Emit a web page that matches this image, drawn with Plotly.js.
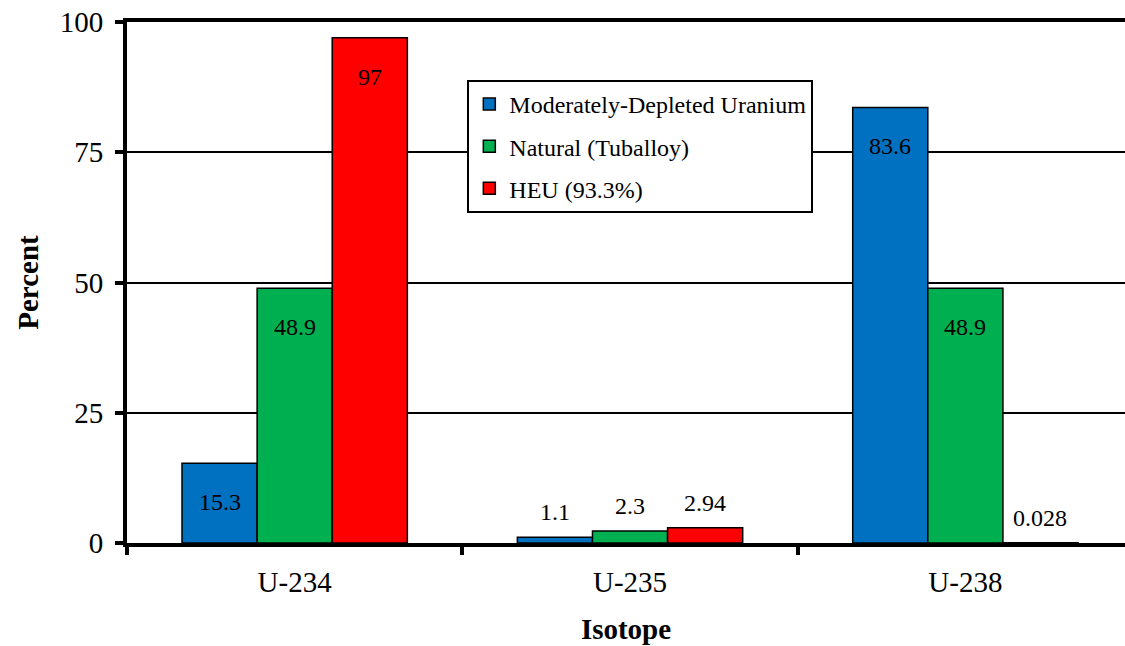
<!DOCTYPE html>
<html>
<head>
<meta charset="utf-8">
<script src="https://cdn.plot.ly/plotly-3.0.1.min.js"></script>
<style>
body{margin:0;font-family:'Liberation Serif','Times New Roman',serif;}
</style>
</head>
<body>
<div id="plot"></div>
<script>
const categories = ["U-234", "U-235", "U-238"];
const seriesNames = ["Moderately-Depleted Uranium", "Natural (Tuballoy)", "HEU (93.3%)"];
const depleted = [15.3, 1.1, 83.6];
const natural = [48.9, 2.3, 48.9];
const heu = [97, 2.94, 0.028];
const yTicks = [0, 25, 50, 75, 100];

const colors = ["#0070C0", "#00B050", "#FF0000"];
const allSeries = [depleted, natural, heu];
const F = "'Times New Roman', 'Liberation Serif', serif";

const traces = allSeries.map(function (vals, i) {
  return {
    type: "bar",
    name: seriesNames[i],
    x: categories,
    y: vals,
    marker: {color: colors[i], line: {color: "#000", width: 1.5}},
    legendgroup: "g" + i,
    hoverinfo: "skip"
  };
});

const annotations = [];
allSeries.forEach(function (vals, i) {
  vals.forEach(function (v, j) {
    const inside = v > 10;
    annotations.push({
      x: categories[j], y: v, xref: "x", yref: "y",
      text: String(v), showarrow: false,
      xshift: (i - 1) * 75,
      yshift: inside ? -39 : 25,
      yanchor: "middle",
      font: {family: F, size: 24, color: "#000"}
    });
  });
});

const layout = {
  width: 1125, height: 646,
  margin: {l: 127, r: 0, t: 22, b: 103, pad: 0},
  paper_bgcolor: "#fff", plot_bgcolor: "#fff",
  barmode: "group", bargap: 0.328, bargroupgap: 0,
  font: {family: F, color: "#000"},
  showlegend: true,
  legend: {
    x: 0.341, y: 0.889, xanchor: "left", yanchor: "top",
    bgcolor: "#fff", bordercolor: "#000", borderwidth: 2,
    font: {family: F, size: 24, color: "#000"},
    tracegroupgap: 8, traceorder: "grouped"
  },
  xaxis: {
    type: "category",
    range: [-0.5, 2.476],
    showline: true, linecolor: "#000", linewidth: 4, mirror: true,
    ticks: "outside", tickson: "boundaries", ticklen: 8, tickwidth: 4, tickcolor: "#000",
    tickfont: {family: F, size: 29, color: "#000"},
    ticklabelstandoff: 10,
    showgrid: false, zeroline: false,
    title: {text: "<b>Isotope</b>", font: {family: F, size: 29, color: "#000"}, standoff: 23},
    fixedrange: true
  },
  yaxis: {
    range: [0, 100],
    tickvals: yTicks, ticktext: yTicks.map(String),
    showline: true, linecolor: "#000", linewidth: 4,
    ticks: "outside", ticklen: 8, tickwidth: 4, tickcolor: "#000",
    tickfont: {family: F, size: 29, color: "#000"},
    ticklabelstandoff: 6,
    showgrid: true, gridcolor: "#000", gridwidth: 1.5,
    zeroline: false,
    title: {text: "<b>Percent</b>", font: {family: F, size: 29, color: "#000"}, standoff: 14},
    fixedrange: true
  },
  annotations: annotations
};

Plotly.newPlot("plot", traces, layout, {displayModeBar: false});
</script>
</body>
</html>
